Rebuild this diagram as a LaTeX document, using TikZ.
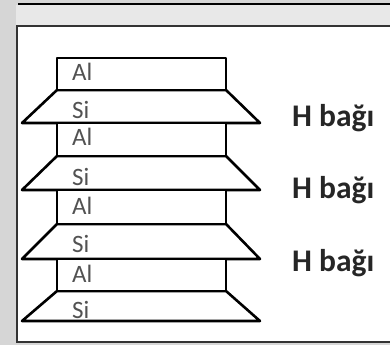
\documentclass[tikz,border=0pt]{standalone}
\usepackage{fontspec}
\setmainfont{Carlito}
\begin{document}
\begin{tikzpicture}[x=1pt,y=-1pt,
  layer/.style={draw=black,line width=2.6pt,line join=round,fill=white},
  lbl/.style={anchor=base west,inner sep=0pt,text=black!68,font=\fontsize{25}{25}\selectfont},
  hb/.style={anchor=base west,inner sep=0pt,text=black!85,font=\fontsize{31.5}{31.5}\selectfont\bfseries}]
\useasboundingbox (0,0) rectangle (390,345);
% window chrome
\fill[black!16] (0,0) rectangle (390,345);
\fill[black!9] (16,5) rectangle (390,26);
\draw[black,line width=1.2pt] (18,4) -- (390,4);
\fill[white] (17,26) rectangle (390,342);
\draw[black!80,line width=1.4pt] (390,26) -- (17,26) -- (17,342) -- (390,342);
% layers
\foreach \ya/\yb/\yc in {58/90/123, 123/156/190, 190/224/259, 259/291/321}{
  \draw[layer] (22,\yc) -- (57,\yb) -- (226,\yb) -- (260,\yc) -- cycle;
  \draw[layer] (57,\ya) rectangle (226,\yb);
}
% labels
\node[lbl] (al1) at (72,80) {Al};
\node[lbl] (si1) at (72,118) {Si};
\node[lbl] (al2) at (72,145) {Al};
\node[lbl] (si2) at (72,185) {Si};
\node[lbl] (al3) at (72,214) {Al};
\node[lbl] (si3) at (72,252) {Si};
\node[lbl] (al4) at (72,282) {Al};
\node[lbl] (si4) at (72,318) {Si};
\node[hb] (h1) at (292,126) {H bağı};
\node[hb] (h2) at (292,198) {H bağı};
\node[hb] (h3) at (292,271) {H bağı};
\end{tikzpicture}
\end{document}
